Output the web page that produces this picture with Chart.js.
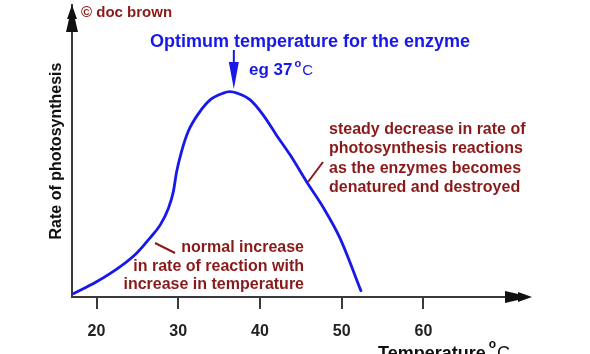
<!DOCTYPE html>
<html><head><meta charset="utf-8">
<script src="https://cdn.jsdelivr.net/npm/chart.js@4"></script>
<style>html,body{margin:0;padding:0;background:#fff}#wrap{width:590px;height:354px}</style>
</head><body><div id="wrap"><canvas id="c" width="590" height="354"></canvas></div>
<script>
// Data
const temperatures = [17.1, 20.0, 22.9, 24.9, 26.5, 27.8, 28.8, 29.4, 29.8, 30.4, 31.2, 32.5, 33.9, 35.5, 36.3, 37.2, 38.8, 40.4, 42.0, 43.7, 45.7, 47.8, 49.8, 52.4];
const rates        = [1.0, 5.2, 10.4, 15.0, 20.1, 24.7, 30.4, 36.1, 42.9, 49.8, 56.6, 62.9, 67.5, 69.8, 70.3, 69.8, 67.5, 62.3, 55.5, 48.6, 39.5, 30.4, 20.1, 1.8];
const xTickValues = [20, 30, 40, 50, 60];
const xTitle = 'Temperature';
const yTitle = 'Rate of photosynthesis';
const creditText = '\u00A9 doc brown';
const optimumLines = ['Optimum temperature for the enzyme', 'eg 37'];
const decreaseLines = ['steady decrease in rate of', 'photosynthesis reactions', 'as the enzymes becomes', 'denatured and destroyed'];
const increaseLines = ['normal increase', 'in rate of reaction with', 'increase in temperature'];
const optimumTemp = 36.8;

const BLUE = '#1818e8';
const RED = '#8a1a1a';
const AXIS = '#3a3a3a';
const FONT = '"Liberation Sans", Arial, sans-serif';

const annotations = {
  id: 'annotations',
  afterDraw(chart) {
    const ctx = chart.ctx;
    const ca = chart.chartArea;
    const xs = chart.scales.x;
    ctx.save();
    // y axis arrowhead
    ctx.fillStyle = '#111';
    ctx.beginPath();
    ctx.moveTo(ca.left, ca.top);
    ctx.lineTo(ca.left + 5, ca.top + 14);
    ctx.lineTo(ca.left + 3, ca.top + 14);
    ctx.lineTo(ca.left + 6, ca.top + 27);
    ctx.lineTo(ca.left - 6, ca.top + 27);
    ctx.lineTo(ca.left - 3, ca.top + 14);
    ctx.lineTo(ca.left - 5, ca.top + 14);
    ctx.closePath();
    ctx.fill();
    // x axis arrowhead
    const ay = ca.bottom;
    const tipX = ca.right + 17;
    ctx.beginPath();
    ctx.moveTo(tipX, ay);
    ctx.lineTo(tipX - 14, ay - 5);
    ctx.lineTo(tipX - 14, ay - 3);
    ctx.lineTo(tipX - 27, ay - 6);
    ctx.lineTo(tipX - 27, ay + 6);
    ctx.lineTo(tipX - 14, ay + 3);
    ctx.lineTo(tipX - 14, ay + 5);
    ctx.closePath();
    ctx.fill();

    // credit
    ctx.fillStyle = RED;
    ctx.font = 'bold 15px ' + FONT;
    ctx.textBaseline = 'middle';
    ctx.textAlign = 'left';
    ctx.fillText(creditText, 81, 13);

    // optimum text
    ctx.fillStyle = BLUE;
    ctx.font = 'bold 18px ' + FONT;
    ctx.fillText(optimumLines[0], 150, 42);
    ctx.textBaseline = 'alphabetic';
    ctx.font = 'bold 17px ' + FONT;
    ctx.fillText(optimumLines[1], 249, 75);
    let w = ctx.measureText(optimumLines[1]).width;
    ctx.font = 'bold 11px ' + FONT;
    ctx.fillText('o', 249 + w + 2, 67);
    let w2 = ctx.measureText('o').width;
    ctx.font = '15px ' + FONT;
    ctx.fillText('C', 249 + w + w2 + 3, 75);

    // optimum arrow
    const px = xs.getPixelForValue(optimumTemp);
    ctx.strokeStyle = BLUE;
    ctx.lineWidth = 2;
    ctx.beginPath();
    ctx.moveTo(px, 50);
    ctx.lineTo(px, 68);
    ctx.stroke();
    ctx.beginPath();
    ctx.moveTo(px, 89);
    ctx.lineTo(px - 5, 62);
    ctx.lineTo(px + 5, 62);
    ctx.closePath();
    ctx.fill();

    // decrease annotation
    ctx.fillStyle = RED;
    ctx.strokeStyle = RED;
    ctx.font = 'bold 16px ' + FONT;
    ctx.textBaseline = 'middle';
    ctx.textAlign = 'left';
    [130, 149, 169, 188].forEach((y, i) => ctx.fillText(decreaseLines[i], 329, y));
    ctx.lineWidth = 2;
    ctx.beginPath();
    ctx.moveTo(308, 182);
    ctx.lineTo(323, 162);
    ctx.stroke();

    // increase annotation
    ctx.textAlign = 'right';
    [248, 267, 285].forEach((y, i) => ctx.fillText(increaseLines[i], 304, y));
    ctx.beginPath();
    ctx.moveTo(155, 243);
    ctx.lineTo(175, 253);
    ctx.stroke();

    // x axis title
    ctx.fillStyle = '#111';
    ctx.textAlign = 'left';
    ctx.textBaseline = 'alphabetic';
    ctx.font = 'bold 18px ' + FONT;
    ctx.fillText(xTitle, 378, 359);
    const tw = ctx.measureText(xTitle).width;
    ctx.font = 'bold 12px ' + FONT;
    ctx.fillText('o', 378 + tw + 3, 348);
    const ow = ctx.measureText('o').width;
    ctx.font = '18px ' + FONT;
    ctx.fillText('C', 378 + tw + ow + 4, 359);
    ctx.restore();
  }
};

new Chart(document.getElementById('c'), {
  type: 'line',
  data: {
    datasets: [{
      data: temperatures.map((t, i) => ({ x: t, y: rates[i] })),
      borderColor: BLUE,
      borderWidth: 2.8,
      pointRadius: 0,
      cubicInterpolationMode: 'monotone',
      fill: false
    }]
  },
  options: {
    responsive: false,
    animation: false,
    devicePixelRatio: 1,
    layout: { padding: { top: 5, right: 75, left: 0, bottom: 0 } },
    plugins: { legend: { display: false }, tooltip: { enabled: false } },
    scales: {
      x: {
        type: 'linear', min: 17, max: 71.2, position: 'bottom',
        afterBuildTicks: s => { s.ticks = xTickValues.map(v => ({ value: v })); },
        afterFit: s => { s.height = 57; },
        grid: { drawOnChartArea: false, drawTicks: true, tickLength: 12, color: AXIS, lineWidth: 2 },
        border: { display: true, color: AXIS, width: 2 },
        ticks: { font: { family: FONT, weight: 'bold', size: 16 }, color: '#222', padding: 13, maxRotation: 0, autoSkip: false }
      },
      y: {
        min: 0, max: 100,
        afterFit: s => { s.width = 72; },
        grid: { display: false, drawTicks: false },
        border: { display: true, color: AXIS, width: 2 },
        ticks: { display: false },
        title: { display: true, text: yTitle, color: '#111', font: { family: FONT, weight: 'bold', size: 16 }, padding: { top: 47, bottom: 0 } }
      }
    }
  },
  plugins: [annotations]
});
</script></body></html>
